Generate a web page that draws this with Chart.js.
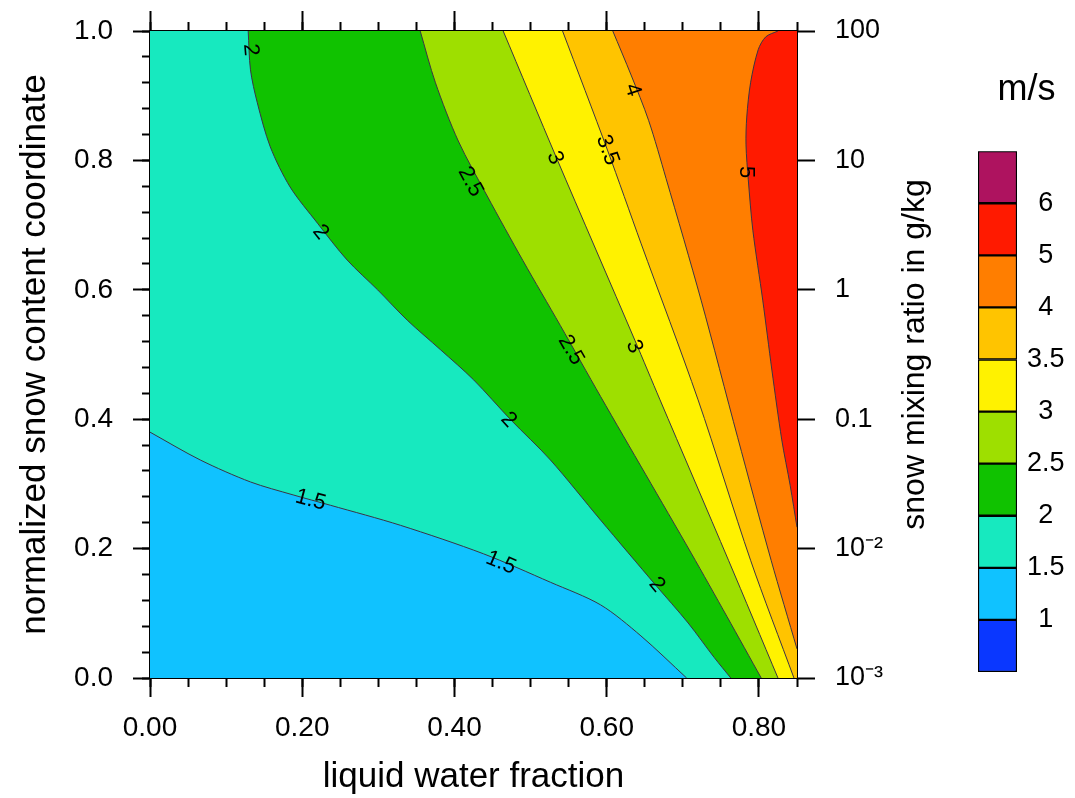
<!DOCTYPE html>
<html>
<head>
<meta charset="utf-8">
<script src="https://cdn.jsdelivr.net/npm/chart.js@4.4.1/dist/chart.umd.min.js"></script>
<style>
  body { margin: 0; background: #fff; }
  #wrap { position: relative; width: 1075px; height: 798px; }
  #main { position: absolute; left: 0; top: 0; }
  #bar { position: absolute; left: 974px; top: 0; }
</style>
</head>
<body>
<div id="wrap">
  <canvas id="main" width="960" height="798"></canvas>
  <canvas id="bar" width="101" height="798"></canvas>
</div>
<script>
Chart.defaults.font.family = "'Liberation Sans', Arial, Helvetica, sans-serif";
Chart.defaults.color = '#000';

// axis range
const xMax = 0.85;
// right axis labels (snow mixing ratio, one decade per 0.2)
const rightTickLabels = ['10\u207B\u00B3', '10\u207B\u00B2', '0.1', '1', '10', '100'];

// contour lines, [liquid water fraction, snow coordinate]
const c15 = [[0, 0.380], [0.066, 0.337], [0.132, 0.303], [0.188, 0.283], [0.237, 0.267], [0.329, 0.236],
  [0.438, 0.192], [0.526, 0.148], [0.592, 0.113], [0.645, 0.065], [0.705, 0]];
const c2 = [[0.129, 1.0], [0.132, 0.940], [0.141, 0.889], [0.158, 0.821], [0.184, 0.759], [0.220, 0.703],
  [0.259, 0.646], [0.299, 0.600], [0.338, 0.553], [0.382, 0.507], [0.425, 0.461], [0.474, 0.399],
  [0.526, 0.337], [0.592, 0.244], [0.664, 0.144], [0.707, 0.085], [0.741, 0.032], [0.763, 0]];
const c25 = [[0.355, 1.0], [0.375, 0.920], [0.405, 0.830], [0.443, 0.745], [0.490, 0.645], [0.539, 0.545],
  [0.592, 0.435], [0.651, 0.315], [0.711, 0.193], [0.758, 0.095], [0.803, 0]];
const c3 = [[0.464, 1.0], [0.534, 0.804], [0.637, 0.522], [0.670, 0.430], [0.760, 0.182], [0.825, 0]];
const c35 = [[0.542, 1.0], [0.601, 0.816], [0.645, 0.672], [0.720, 0.430], [0.789, 0.182], [0.846, 0]];
const c4 = [[0.608, 1.0], [0.632, 0.932], [0.655, 0.862], [0.678, 0.772], [0.724, 0.584], [0.772, 0.372],
  [0.816, 0.182], [0.85, 0.045]];
const c5 = [[0.825, 1.0], [0.809, 0.991], [0.799, 0.971], [0.789, 0.920], [0.784, 0.867], [0.783, 0.824],
  [0.786, 0.770], [0.792, 0.692], [0.805, 0.584], [0.817, 0.476], [0.830, 0.368], [0.841, 0.298], [0.85, 0.233]];

const levelLines = [c15, c2, c25, c3, c35, c4, c5];
const baseColor = '#10c2ff';
const fillColors = ['#17e9bf', '#10c200', '#9edf00', '#fff200', '#ffc400', '#ff7e00', '#ff1a00'];

// in-line contour labels
const labelText = ['2', '2', '1.5', '1.5', '2', '2', '2.5', '2.5', '3', '3', '3.5', '4', '5'];
const labelX = [0.132, 0.224, 0.211, 0.461, 0.471, 0.666, 0.421, 0.553, 0.532, 0.636, 0.601, 0.634, 0.783];
const labelY = [0.971, 0.689, 0.275, 0.178, 0.399, 0.144, 0.767, 0.507, 0.804, 0.512, 0.816, 0.909, 0.782];
const labelAngle = [85, 51, 15, 23, 47, 50, 62, 60, 68, 68, 70, 72, 90];

// colour bar, bottom to top
const barColors = ['#0a37ff', '#10c2ff', '#17e9bf', '#10c200', '#9edf00', '#fff200', '#ffc400', '#ff7e00', '#ff1a00', '#ae135f'];
const barTickLabels = ['1', '1.5', '2', '2.5', '3', '3.5', '4', '5', '6'];

const smooth = 0.3;
const toPts = a => a.map(p => ({x: p[0], y: p[1]}));

const datasets = [];
// lowest band covers whole plot
datasets.push({
  data: toPts([[0, 0], [xMax, 0], [xMax, 1], [0, 1]]),
  fill: 'shape', backgroundColor: baseColor, borderColor: 'transparent', borderWidth: 0,
  pointRadius: 0, tension: 0, order: 20
});
// each band = area above its contour line
// (end point repeated so the smoothed edge is the same curve as the drawn line)
levelLines.forEach((ln, i) => {
  const last = ln[ln.length - 1];
  const corners = last[0] >= xMax ? [[xMax, 1]] : [[xMax, 0], [xMax, 1]];
  if (ln[0][0] === 0) corners.push([0, 1]);
  datasets.push({
    data: toPts(ln.concat([last], corners)),
    fill: 'shape', backgroundColor: fillColors[i], borderColor: 'transparent', borderWidth: 0,
    pointRadius: 0, tension: smooth, order: 19 - i
  });
});
levelLines.forEach(ln => {
  datasets.push({
    data: toPts(ln), fill: false, borderColor: '#3b3445', borderWidth: 1,
    pointRadius: 0, tension: smooth, order: 1
  });
});

const tickGrid = len => ({drawOnChartArea: false, tickLength: len, tickWidth: 2, tickColor: '#000'});
const noPad = s => { s.paddingTop = 0; s.paddingBottom = 0; s.paddingLeft = 0; s.paddingRight = 0; };

const labelPlugin = {
  id: 'contourLabels',
  afterDatasetsDraw(chart) {
    const {ctx} = chart;
    const x = chart.scales.x, y = chart.scales.y;
    ctx.save();
    ctx.font = "22px 'Liberation Sans', Arial, sans-serif";
    ctx.fillStyle = '#000';
    ctx.textAlign = 'center';
    ctx.textBaseline = 'middle';
    labelText.forEach((t, i) => {
      ctx.save();
      ctx.translate(x.getPixelForValue(labelX[i]), y.getPixelForValue(labelY[i]));
      ctx.rotate(labelAngle[i] * Math.PI / 180);
      ctx.fillText(t, 0, 0);
      ctx.restore();
    });
    ctx.restore();
  },
  afterDraw(chart) {
    // right axis title reads bottom to top
    const {ctx, chartArea} = chart;
    const r = chart.scales.yRight;
    ctx.save();
    ctx.font = "32px 'Liberation Sans', Arial, sans-serif";
    ctx.fillStyle = '#000';
    ctx.textAlign = 'center';
    ctx.textBaseline = 'middle';
    ctx.translate(r.right - 45, (chartArea.top + chartArea.bottom) / 2);
    ctx.rotate(-Math.PI / 2);
    ctx.fillText('snow mixing ratio in g/kg', 0, 0);
    ctx.restore();
  }
};

new Chart(document.getElementById('main'), {
  type: 'line',
  data: {datasets: datasets},
  options: {
    responsive: false,
    animation: false,
    devicePixelRatio: 1,
    layout: {padding: 0},
    plugins: {legend: {display: false}, tooltip: {enabled: false}},
    scales: {
      x: {
        type: 'linear', position: 'bottom', min: 0, max: xMax, weight: 1,
        ticks: {stepSize: 0.2, includeBounds: false, autoSkip: false, maxRotation: 0, padding: 14,
          font: {size: 28}, callback: v => v.toFixed(2)},
        grid: tickGrid(19),
        border: {color: '#000', width: 2},
        title: {display: true, text: 'liquid water fraction', font: {size: 35}, padding: {top: 0, bottom: 0}},
        afterFit: s => { s.height = 120; noPad(s); }
      },
      xMinor: {
        type: 'linear', position: 'bottom', min: 0, max: xMax, weight: 0,
        ticks: {display: false, stepSize: 0.05, autoSkip: false, maxTicksLimit: 100},
        grid: tickGrid(9), border: {display: false},
        afterFit: s => { s.height = 0; noPad(s); }
      },
      xTop: {
        type: 'linear', position: 'top', min: 0, max: xMax, weight: 1,
        ticks: {display: false, stepSize: 0.2, includeBounds: false, autoSkip: false},
        grid: tickGrid(20), border: {color: '#000', width: 2},
        afterFit: s => { s.height = 31; noPad(s); }
      },
      xTopMinor: {
        type: 'linear', position: 'top', min: 0, max: xMax, weight: 0,
        ticks: {display: false, stepSize: 0.05, autoSkip: false, maxTicksLimit: 100},
        grid: tickGrid(9), border: {display: false},
        afterFit: s => { s.height = 0; noPad(s); }
      },
      y: {
        type: 'linear', position: 'left', min: 0, max: 1, weight: 1,
        ticks: {stepSize: 0.2, autoSkip: false, padding: 20, font: {size: 28}, callback: v => v.toFixed(1)},
        grid: tickGrid(17),
        border: {color: '#000', width: 2},
        title: {display: true, text: 'normalized snow content coordinate', font: {size: 35}, padding: {top: 14, bottom: 0}},
        afterFit: s => { s.width = 150; noPad(s); }
      },
      yMinor: {
        type: 'linear', position: 'left', min: 0, max: 1, weight: 0,
        ticks: {display: false, stepSize: 0.04, autoSkip: false, maxTicksLimit: 100},
        grid: tickGrid(8), border: {display: false},
        afterFit: s => { s.width = 0; noPad(s); }
      },
      yRight: {
        type: 'linear', position: 'right', min: 0, max: 1,
        ticks: {stepSize: 0.2, autoSkip: false, padding: 20, font: {size: 27},
          callback: (v, i) => rightTickLabels[i]},
        grid: tickGrid(18),
        border: {color: '#000', width: 2},
        afterFit: s => { s.width = 163; noPad(s); }
      }
    }
  },
  plugins: [labelPlugin]
});

new Chart(document.getElementById('bar'), {
  type: 'bar',
  data: {
    labels: [''],
    datasets: barColors.map(c => ({
      data: [1], backgroundColor: c, borderColor: '#000', borderWidth: 1.5,
      borderSkipped: false, barPercentage: 1, categoryPercentage: 1
    }))
  },
  options: {
    responsive: false,
    animation: false,
    devicePixelRatio: 1,
    layout: {padding: {left: 4, right: 0, top: 0, bottom: 126}},
    plugins: {
      legend: {display: false},
      tooltip: {enabled: false},
      title: {display: true, text: 'm/s', color: '#000', font: {size: 36, weight: 'normal'}, padding: {top: 68, bottom: 40}}
    },
    scales: {
      x: {stacked: true, display: false},
      y: {
        stacked: true, position: 'right', min: 0, max: 10,
        ticks: {stepSize: 1, padding: 10, crossAlign: 'center', font: {size: 27},
          callback: v => barTickLabels[v - 1] ?? ''},
        grid: {display: false, drawTicks: false},
        border: {display: false},
        afterFit: s => { s.width = 58; noPad(s); }
      }
    }
  }
});
</script>
</body>
</html>
